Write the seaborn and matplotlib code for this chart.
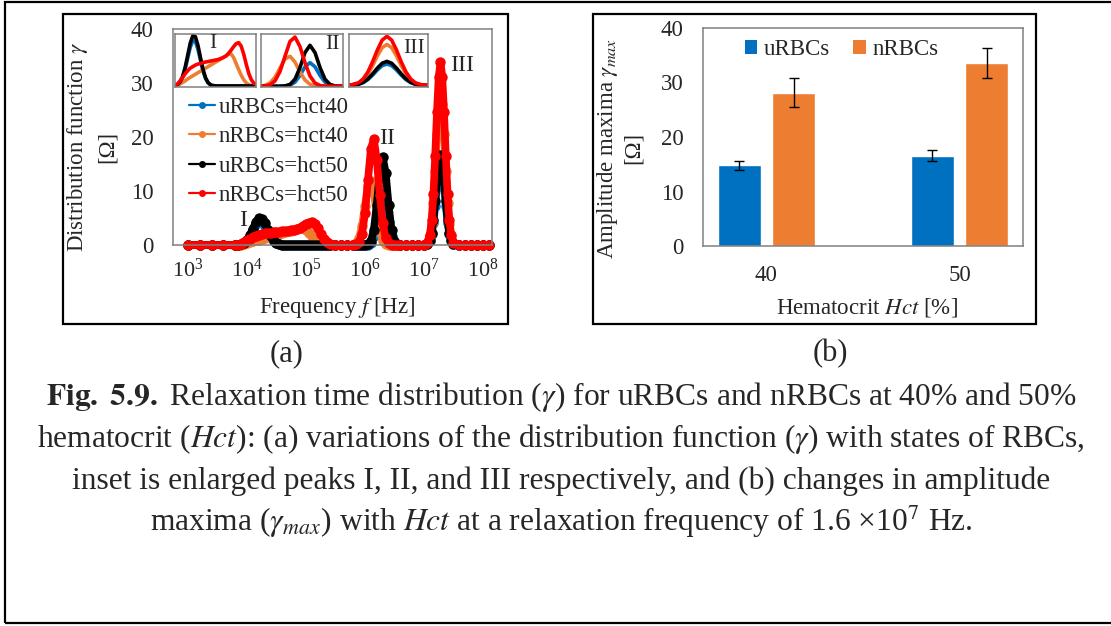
import numpy as np
import pandas as pd
import matplotlib
matplotlib.use("Agg")
import matplotlib.pyplot as plt
from matplotlib.lines import Line2D
from matplotlib.patches import Rectangle, Patch
import seaborn as sns

# ---------------- data: panel (a) ----------------
# log10 of frequency [Hz] (shared grid)
log_freq = [3.00, 3.20, 3.40, 3.60, 3.80,
            3.85, 3.90, 3.95, 4.00, 4.05, 4.10, 4.15, 4.20, 4.25, 4.30, 4.35, 4.40, 4.45, 4.50, 4.55, 4.60,
            4.65, 4.70, 4.75, 4.80, 4.85, 4.90, 4.95, 5.00, 5.05, 5.10, 5.15, 5.20, 5.25, 5.30, 5.35, 5.40,
            5.50, 5.60, 5.70, 5.80,
            5.85, 5.90, 5.95, 6.00, 6.05, 6.10, 6.15, 6.20, 6.25, 6.30, 6.35, 6.40, 6.45, 6.50, 6.55, 6.60,
            6.70, 6.80, 6.90, 7.00, 7.05, 7.10,
            7.13, 7.16, 7.19, 7.22, 7.25, 7.28, 7.31, 7.34, 7.37, 7.40, 7.43, 7.46,
            7.50, 7.60, 7.70, 7.80, 7.90, 8.00, 8.10]

gamma_u40 = [0, 0, 0, 0, 0,
             0.04, 0.13, 0.36, 0.84, 1.66, 2.73, 3.80, 4.44, 4.36, 3.60, 2.50, 1.46, 0.72, 0.30, 0.10, 0.03,
             0.01, 0, 0, 0, 0, 0, 0, 0, 0, 0, 0, 0, 0, 0, 0, 0,
             0, 0, 0, 0,
             0, 0, 0, 0, 0.07, 0.41, 1.62, 4.30, 7.74, 9.4, 7.74, 4.30, 1.62, 0.41, 0.07, 0,
             0, 0, 0, 0.01, 0.13, 0.83,
             2.00, 4.11, 7.21, 10.74, 13.66, 14.8, 13.66, 10.74, 7.21, 4.11, 2.00, 0.83,
             0.20, 0, 0, 0, 0, 0, 0]

gamma_n40 = [0, 0, 0, 0, 0,
             0.02, 0.08, 0.2, 0.35, 0.5, 0.7, 0.85, 1.0, 1.15, 1.3, 1.45, 1.6, 1.75, 1.9, 2.05, 2.2,
             2.35, 2.5, 2.65, 2.8, 2.95, 3.1, 3.15, 2.8, 2.2, 1.6, 1.05, 0.6, 0.3, 0.12, 0.04, 0.01,
             0, 0, 0, 0.07,
             0.34, 1.30, 3.58, 7.28, 10.87, 11.93, 9.61, 5.69, 2.47, 0.79, 0.18, 0.03, 0, 0, 0, 0,
             0, 0, 0, 0.03, 0.25, 1.58,
             3.81, 7.84, 13.73, 20.47, 26.03, 28.2, 26.03, 20.47, 13.73, 7.84, 3.81, 1.58,
             0.38, 0, 0, 0, 0, 0, 0]

gamma_u50 = [0, 0, 0, 0, 0,
             0.04, 0.14, 0.40, 0.93, 1.84, 3.03, 4.22, 4.93, 4.84, 4.00, 2.78, 1.62, 0.80, 0.33, 0.11, 0.03,
             0.01, 0, 0, 0, 0, 0, 0, 0, 0, 0, 0, 0, 0, 0, 0, 0,
             0, 0, 0, 0,
             0, 0, 0, 0.01, 0.12, 0.72, 2.81, 7.46, 13.41, 16.3, 13.41, 7.46, 2.81, 0.72, 0.12, 0.01,
             0, 0, 0, 0.02, 0.15, 0.93,
             2.24, 4.61, 8.08, 12.05, 15.32, 16.6, 15.32, 12.05, 8.08, 4.61, 2.24, 0.93,
             0.22, 0, 0, 0, 0, 0, 0]

gamma_n50 = [0, 0, 0, 0, 0.02,
             0.05, 0.2, 0.5, 0.85, 1.2, 1.5, 1.75, 1.9, 2.05, 2.15, 2.2, 2.3, 2.35, 2.4, 2.45, 2.5,
             2.55, 2.6, 2.7, 2.8, 2.95, 3.2, 3.5, 3.85, 4.15, 4.25, 3.9, 3.1, 2.1, 1.2, 0.6, 0.25,
             0.03, 0, 0, 0,
             0.11, 0.56, 2.12, 5.87, 11.95, 17.85, 19.58, 15.78, 9.33, 4.06, 1.30, 0.30, 0.05, 0, 0, 0,
             0, 0, 0, 0.03, 0.30, 1.89,
             4.56, 9.40, 16.46, 24.54, 31.20, 33.8, 31.20, 24.54, 16.46, 9.40, 4.56, 1.89,
             0.46, 0, 0, 0, 0, 0, 0]

series_names = ["uRBCs=hct40", "nRBCs=hct40", "uRBCs=hct50", "nRBCs=hct50"]
line_colors = ["#0070C0", "#ED7D31", "#000000", "#FF0000"]

# ---------------- data: panel (b) ----------------
hct_levels = ["40", "50"]
states = ["uRBCs", "nRBCs"]
u_max = [14.8, 16.6]
n_max = [28.1, 33.6]
u_err = [0.8, 1.0]
n_err = [2.65, 2.7]
bar_colors = ["#0070C0", "#ED7D31"]

# ---------------- style ----------------
sns.set_theme(style="white")
plt.rcParams["font.family"] = ["Liberation Serif", "DejaVu Serif"]
plt.rcParams["mathtext.fontset"] = "stix"

W, H = 1111, 626
fig = plt.figure(figsize=(W / 100, H / 100), dpi=100)
fig.patch.set_facecolor("white")


def rect(x0, y0, x1, y1):
    return [x0 / W, 1 - y1 / H, (x1 - x0) / W, (y1 - y0) / H]


def fx(x):
    return x / W


def fy(y):
    return 1 - y / H


FS = 16.5
SPINE = "#808080"

df = pd.DataFrame({
    "freq": np.tile(10 ** np.array(log_freq), 4),
    "gamma": np.concatenate([gamma_u40, gamma_n40, gamma_u50, gamma_n50]),
    "series": np.repeat(series_names, len(log_freq)),
})

# ---------------- panel (a) ----------------
ax = fig.add_axes(rect(173, 29, 492, 245))
ax.set_xscale("log")
sns.lineplot(data=df, x="freq", y="gamma", hue="series", hue_order=series_names,
             palette=line_colors, marker="o", markersize=7.5, markeredgewidth=0,
             linewidth=5.5, legend=False, estimator=None, sort=False, ax=ax)
for ln in ax.lines:
    ln.set_clip_on(False)
ax.set_xlim(10 ** 2.746, 10 ** 8.153)
ax.set_ylim(0, 40)
ax.set_xticks([1e3, 1e4, 1e5, 1e6, 1e7, 1e8])
ax.set_yticks([0, 10, 20, 30, 40])
ax.minorticks_off()
ax.tick_params(axis="y", length=0, pad=14, labelsize=FS)
ax.tick_params(axis="x", length=0, pad=10, labelsize=FS - 0.5)
ax.set_xlabel("")
ax.set_ylabel("")
for s in ax.spines.values():
    s.set_color(SPINE)
    s.set_linewidth(1.1)

ax.text(10 ** 3.93, 4.6, "I", fontsize=FS + 0.5, ha="center", va="center")
ax.text(10 ** 6.37, 19.7, "II", fontsize=FS + 0.5, ha="center", va="center")
ax.text(10 ** 7.64, 33.2, "III", fontsize=FS + 0.5, ha="center", va="center")

handles = [Line2D([], [], color=c, lw=1.6, marker="o", markersize=5, markeredgewidth=0)
           for c in line_colors]
ax.legend(handles, series_names, loc="upper left", bbox_to_anchor=(0.05, 0.685),
          frameon=False, fontsize=FS, handlelength=1.15, handletextpad=0.15,
          labelspacing=0.36, borderpad=0, borderaxespad=0)

# insets
inset_specs = [
    ((175, 34, 256, 87), (3.85, 5.44), (-0.1, 5.1), "I", (0.465, 0.82)),
    ((261, 34, 343, 87), (5.81, 6.63), (-0.3, 20.8), "II", (0.866, 0.80)),
    ((349, 34, 428, 87), (7.04, 7.54), (-1.0, 35.4), "III", (0.823, 0.73)),
]
for box, xl, yl, lab, lpos in inset_specs:
    ai = fig.add_axes(rect(*box))
    ai.set_xscale("log")
    sns.lineplot(data=df, x="freq", y="gamma", hue="series", hue_order=series_names,
                 palette=line_colors, linewidth=2.6, legend=False, estimator=None,
                 sort=False, ax=ai)
    ai.set_xlim(10 ** xl[0], 10 ** xl[1])
    ai.set_ylim(*yl)
    ai.set_xticks([])
    ai.set_yticks([])
    ai.minorticks_off()
    ai.set_xlabel("")
    ai.set_ylabel("")
    for s in ai.spines.values():
        s.set_color(SPINE)
        s.set_linewidth(1.1)
    ai.text(lpos[0], lpos[1], lab, transform=ai.transAxes, fontsize=15.5,
            ha="center", va="center")

fig.text(fx(337), fy(307), "Frequency $f$ [Hz]", fontsize=FS, ha="center", va="center")
fig.text(fx(78), fy(147), r"Distribution function $\gamma$", fontsize=FS,
         rotation=90, ha="center", va="center")
fig.text(fx(107), fy(147), "[Ω]", fontsize=FS, rotation=90, ha="center", va="center")

# ---------------- panel (b) ----------------
dfb = pd.DataFrame({
    "hct": hct_levels * 2,
    "state": [states[0]] * 2 + [states[1]] * 2,
    "value": u_max + n_max,
    "err": u_err + n_err,
})
axb = fig.add_axes(rect(703, 28, 1023, 246))
sns.barplot(data=dfb, x="hct", y="value", hue="state", hue_order=states,
            palette=bar_colors, width=0.5625, gap=0.2, errorbar=None,
            saturation=1, legend=False, ax=axb)
xs, hs, es = [], [], []
for p in axb.patches:
    h = p.get_height()
    idx = int(np.argmin(np.abs(dfb["value"].values - h)))
    xs.append(p.get_x() + p.get_width() / 2)
    hs.append(h)
    es.append(dfb["err"].values[idx])
axb.errorbar(xs, hs, yerr=es, fmt="none", ecolor="black", elinewidth=1.0,
             capsize=3.5, capthick=1.0)
axb.set_ylim(0, 40)
axb.set_yticks([0, 10, 20, 30, 40])
axb.tick_params(axis="y", length=0, pad=14, labelsize=FS)
axb.tick_params(axis="x", length=0, pad=14, labelsize=FS)
axb.set_xlabel("")
axb.set_ylabel("")
for s in axb.spines.values():
    s.set_color(SPINE)
    s.set_linewidth(1.1)

bh = [Patch(facecolor=c, edgecolor="none") for c in bar_colors]
axb.legend(bh, states, ncol=2, loc="upper left", bbox_to_anchor=(0.13, 0.95),
           frameon=False, fontsize=FS, handlelength=0.55, handleheight=0.55,
           handletextpad=0.3, columnspacing=1.0, borderpad=0, borderaxespad=0)

fig.text(fx(867), fy(308), "Hematocrit $Hct$ [%]", fontsize=FS, ha="center", va="center")
fig.text(fx(607), fy(148), r"Amplitude maxima $\gamma_{max}$", fontsize=FS,
         rotation=90, ha="center", va="center")
fig.text(fx(633), fy(148), "[Ω]", fontsize=FS, rotation=90, ha="center", va="center")

# ---------------- frames ----------------
for (x0, y0, x1, y1) in [(5, 2, 1120, 623), (63, 14, 508, 324), (593, 14, 1036, 324)]:
    fig.patches.append(Rectangle((fx(x0), fy(y1)), (x1 - x0) / W, (y1 - y0) / H,
                                 transform=fig.transFigure, fill=False,
                                 edgecolor="black", linewidth=1.6))

# ---------------- caption ----------------
CFS = 22.7
fig.text(fx(287), fy(354), "(a)", fontsize=22, ha="center", va="center")
fig.text(fx(830), fy(354), "(b)", fontsize=22, ha="center", va="center")
cap_lines = [
    r"$\mathbf{Fig.\ 5.9.}$ Relaxation time distribution ($\gamma$) for uRBCs and nRBCs at 40% and 50%",
    r"hematocrit ($Hct$): (a) variations of the distribution function ($\gamma$) with states of RBCs,",
    "inset is enlarged peaks I, II, and III respectively, and (b) changes in amplitude",
    r"maxima ($\gamma_{max}$) with $Hct$ at a relaxation frequency of 1.6 ×10$^7$ Hz.",
]
for yy, t in zip([397, 439, 481, 521], cap_lines):
    fig.text(fx(561), fy(yy), t, fontsize=CFS, ha="center", va="center")

fig.savefig("out.png", dpi=100)
